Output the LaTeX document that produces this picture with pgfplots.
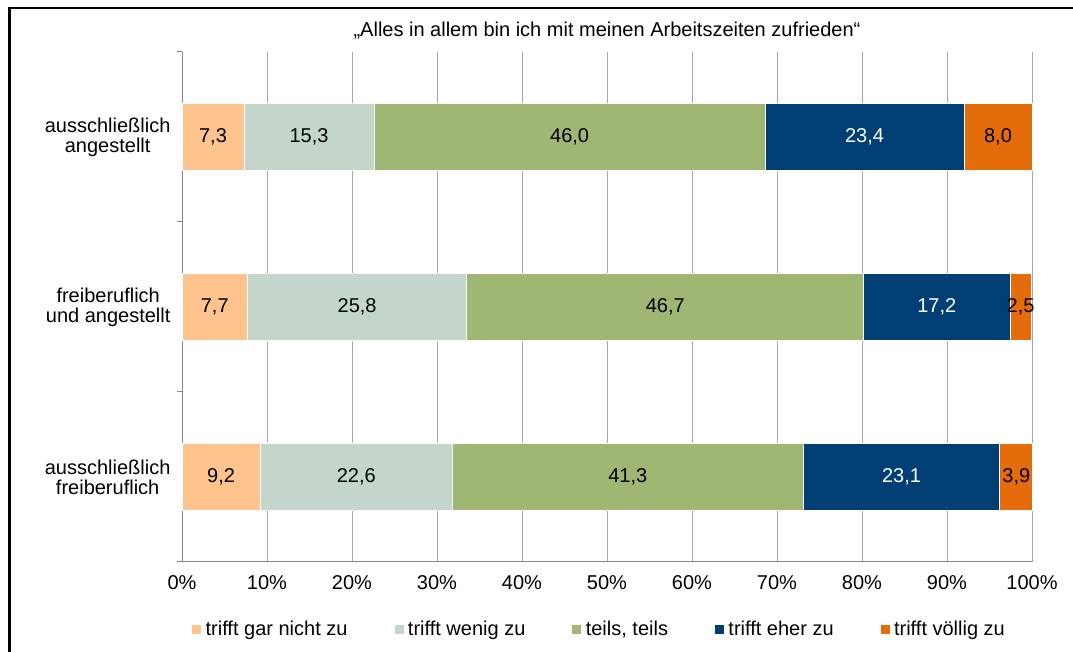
\documentclass[border=0pt]{standalone}
\usepackage{fontspec}
\setmainfont{Liberation Sans}
\usepackage{pgfplots}
\usepackage{pgfplotstable}
\pgfplotsset{compat=1.18}
\definecolor{cA}{HTML}{FFC48E}
\definecolor{cB}{HTML}{C3D6C9}
\definecolor{cC}{HTML}{A0B774}
\definecolor{cD}{HTML}{003F73}
\definecolor{cE}{HTML}{E46C0A}
\definecolor{gridc}{HTML}{A6A6A6}
\definecolor{axisc}{HTML}{868686}
\pgfplotstableread{
y a b c d e
0 9.2 22.6 41.3 23.1 3.9
1 7.7 25.8 46.7 17.2 2.5
2 7.3 15.3 46.0 23.4 8.0
}\datatable
\begin{document}
\begin{tikzpicture}[font=\fontsize{20}{20}\selectfont]
\useasboundingbox (0,0) rectangle (1073pt,652pt);
\draw[line width=2.5pt] (9.5pt,-5pt) -- (9.5pt,644pt) -- (1080pt,644pt);
\node[anchor=base] at (607pt,615pt) {„Alles in allem bin ich mit meinen Arbeitszeiten zufrieden“};
\begin{axis}[
  at={(182pt,90pt)}, anchor=south west,
  scale only axis, width=850pt, height=510pt,
  xbar stacked, bar width=67pt,
  xmin=0, xmax=100, ymin=-0.5, ymax=2.5,
  clip=false,
  axis lines*=left,
  axis line style={draw=axisc, line width=1pt},
  xtick={0,10,...,100},
  xticklabels={0\%,10\%,20\%,30\%,40\%,50\%,60\%,70\%,80\%,90\%,100\%},
  ytick={0,1,2},
  yticklabels={ausschließlich\\freiberuflich, freiberuflich\\und angestellt, ausschließlich\\angestellt},
  minor ytick={-0.5,0.5,1.5,2.5},
  major tick length=0pt, minor tick length=5pt, tick align=outside,
  tick style={axisc, line width=1pt},
  xmajorgrids, major grid style={gridc, line width=1pt},
  yticklabel style={align=center, xshift=-8pt, font=\fontsize{20}{20}\selectfont},
  xticklabel style={yshift=-10pt, font=\fontsize{20}{20}\selectfont},
  point meta=explicit,
  nodes near coords={\pgfmathprintnumber[use comma,fixed,fixed zerofill,precision=1,assume math mode=true]{\pgfplotspointmeta}},
  every node near coord/.append style={anchor=center, font=\fontsize{20}{20}\selectfont},
  legend columns=5,
  legend style={at={(0.0118,-0.132)}, anchor=west, draw=none, fill=none, inner sep=0pt, font=\fontsize{20}{20}\selectfont,
    /tikz/every even column/.append style={column sep=45pt}},
  legend image code/.code={\fill[#1, draw=none] (0pt,-4.5pt) rectangle (9pt,4.5pt); \path (11pt,0pt);},
  seg/.style={fill=#1, draw=white, line width=0.8pt},
]
\addplot[seg=cA] table[x=a, y=y, meta=a] {\datatable};
\addplot[seg=cB] table[x=b, y=y, meta=b] {\datatable};
\addplot[seg=cC] table[x=c, y=y, meta=c] {\datatable};
\addplot[seg=cD, every node near coord/.append style={text=white}] table[x=d, y=y, meta=d] {\datatable};
\addplot[seg=cE] table[x=e, y=y, meta=e] {\datatable};
\legend{trifft gar nicht zu, trifft wenig zu, {teils, teils}, trifft eher zu, trifft völlig zu}
\end{axis}
\end{tikzpicture}
\end{document}
